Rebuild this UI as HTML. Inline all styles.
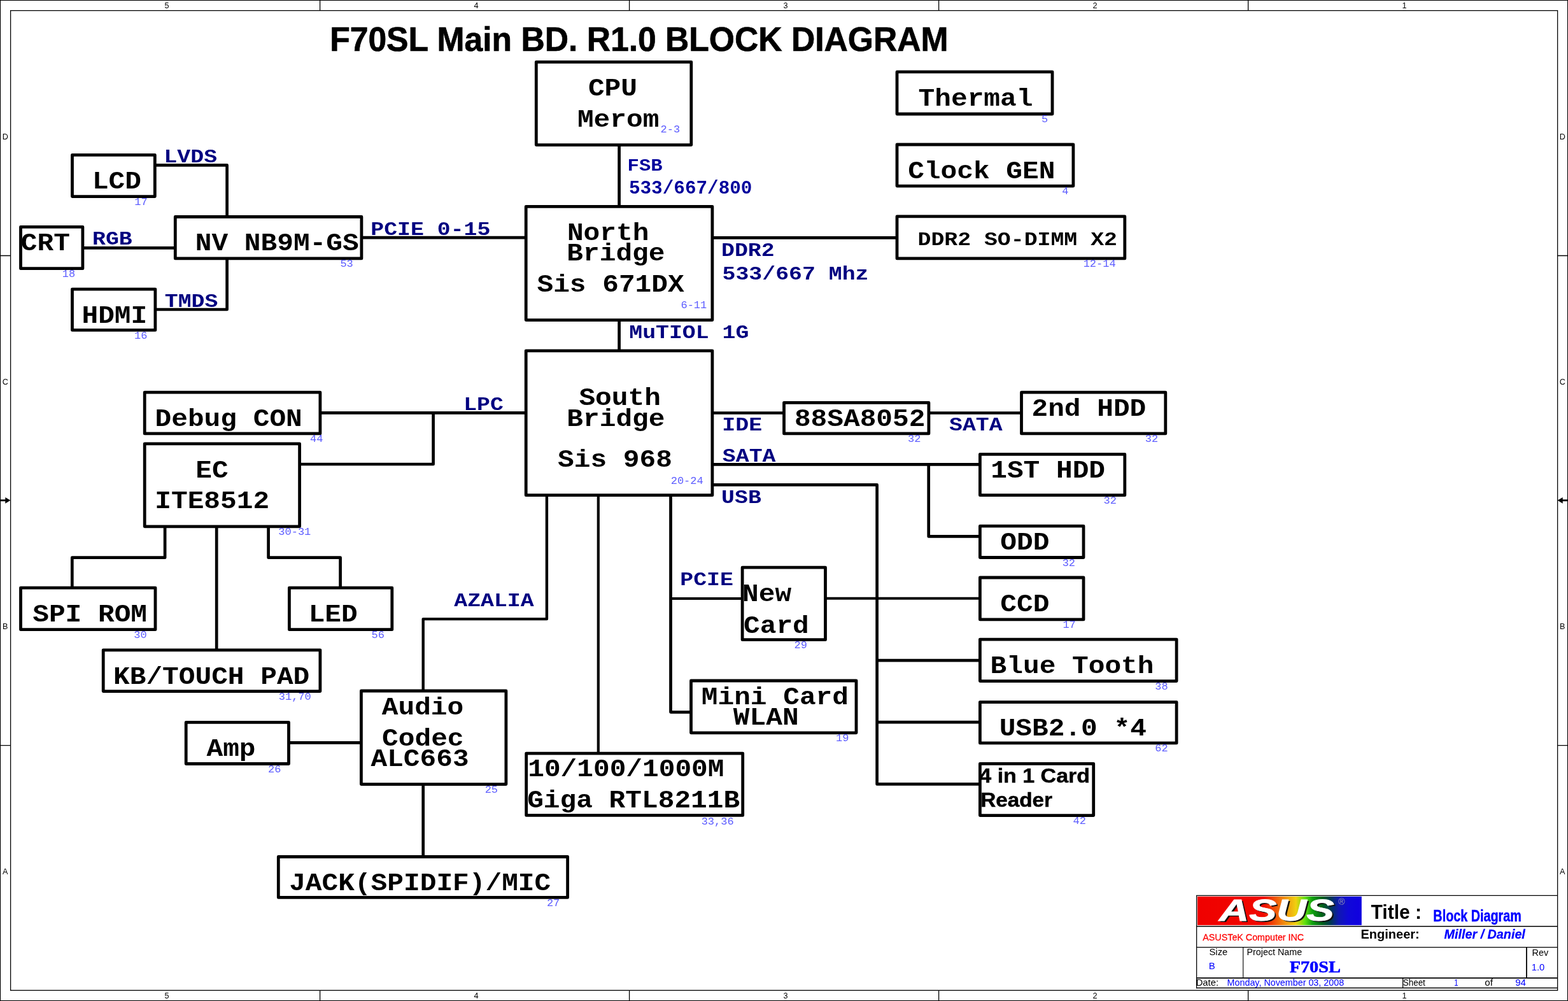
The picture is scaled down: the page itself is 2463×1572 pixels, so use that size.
<!DOCTYPE html>
<html lang="en"><head><meta charset="utf-8"><title>F70SL Main BD. R1.0 BLOCK DIAGRAM</title>
<style>html,body{margin:0;padding:0;background:#fff;}body{width:2463px;height:1572px;}svg{display:block;will-change:transform;}</style></head>
<body>
<svg width="2463" height="1572" viewBox="0 0 2463 1572">
<rect x="0" y="0" width="2463" height="1572" fill="#fff"/>
<g fill="none" stroke="#000" stroke-width="1.3">
<rect x="0.5" y="0.5" width="2462" height="1571" stroke-width="1.1"/>
<rect x="16.6" y="16.6" width="2430.0" height="1538.7"/>
<path d="M502.6 0V16.6M502.6 1555.3V1572"/>
<path d="M988.6 0V16.6M988.6 1555.3V1572"/>
<path d="M1474.6 0V16.6M1474.6 1555.3V1572"/>
<path d="M1960.6 0V16.6M1960.6 1555.3V1572"/>
<path d="M0 401.5H16.6M2446.6 401.5H2463"/>
<path d="M0 1170.6H16.6M2446.6 1170.6H2463"/>
</g>
<path d="M0 785.8H10" stroke="#000" stroke-width="2.8" fill="none"/>
<path d="M8.3 780.9L16.4 785.8L8.3 790.6999999999999Z" fill="#000"/>
<path d="M2463 785.8H2453" stroke="#000" stroke-width="2.8" fill="none"/>
<path d="M2454.7 780.9L2446.6 785.8L2454.7 790.6999999999999Z" fill="#000"/>
<g fill="none" stroke="#000" stroke-width="4.8" stroke-linejoin="round" stroke-linecap="butt">
<rect x="842.30" y="97.30" width="243.50" height="130.30"/>
<rect x="1409.00" y="112.90" width="244.00" height="66.10"/>
<rect x="1409.00" y="227.00" width="276.90" height="65.10"/>
<rect x="1409.00" y="339.90" width="357.80" height="66.00"/>
<rect x="113.50" y="243.30" width="129.80" height="65.30"/>
<rect x="32.50" y="356.30" width="97.40" height="65.40"/>
<rect x="275.30" y="340.50" width="292.60" height="65.40"/>
<rect x="113.50" y="454.10" width="130.40" height="64.30"/>
<rect x="826.20" y="324.40" width="292.70" height="178.20"/>
<rect x="826.20" y="550.80" width="292.70" height="226.90"/>
<rect x="227.20" y="616.20" width="275.70" height="64.70"/>
<rect x="227.20" y="696.90" width="243.40" height="129.90"/>
<rect x="32.50" y="923.10" width="211.50" height="65.60"/>
<rect x="454.40" y="923.10" width="161.40" height="65.60"/>
<rect x="162.20" y="1020.80" width="340.70" height="64.80"/>
<rect x="292.20" y="1134.40" width="161.30" height="65.10"/>
<rect x="567.40" y="1085.00" width="227.50" height="146.60"/>
<rect x="437.30" y="1345.50" width="454.30" height="63.90"/>
<rect x="826.70" y="1183.10" width="340.00" height="97.30"/>
<rect x="1166.10" y="891.20" width="130.40" height="113.50"/>
<rect x="1085.50" y="1069.00" width="259.50" height="81.80"/>
<rect x="1231.50" y="632.30" width="227.40" height="48.60"/>
<rect x="1604.50" y="616.20" width="226.30" height="64.70"/>
<rect x="1539.40" y="713.40" width="227.40" height="64.30"/>
<rect x="1539.40" y="826.20" width="162.60" height="49.30"/>
<rect x="1539.40" y="907.00" width="162.60" height="65.90"/>
<rect x="1539.40" y="1004.10" width="308.70" height="65.50"/>
<rect x="1539.40" y="1102.60" width="308.70" height="64.30"/>
<rect x="1539.40" y="1199.30" width="178.30" height="81.30"/>
<path d="M972.60 227.70 L972.60 324.30" stroke-width="4.7"/>
<path d="M972.60 502.70 L972.60 550.70" stroke-width="4.7"/>
<path d="M243.40 259.40 L356.60 259.40 L356.60 340.40" stroke-width="4.7"/>
<path d="M244.00 486.00 L356.60 486.00 L356.60 406.00" stroke-width="4.7"/>
<path d="M130.00 389.30 L275.20 389.30" stroke-width="4.7"/>
<path d="M568.00 373.10 L826.10 373.10" stroke-width="4.7"/>
<path d="M1119.00 373.40 L1408.90 373.40" stroke-width="4.7"/>
<path d="M503.00 648.40 L826.10 648.40" stroke-width="4.7"/>
<path d="M470.70 729.00 L680.60 729.00 L680.60 648.40" stroke-width="4.7"/>
<path d="M1119.00 648.50 L1231.40 648.50" stroke-width="4.7"/>
<path d="M1459.00 648.50 L1604.40 648.50" stroke-width="4.7"/>
<path d="M1119.00 729.30 L1539.30 729.30" stroke-width="4.7"/>
<path d="M1458.70 729.30 L1458.70 842.40 L1539.30 842.40" stroke-width="4.7"/>
<path d="M1119.00 761.40 L1377.60 761.40 L1377.60 1231.40 L1539.30 1231.40" stroke-width="4.7"/>
<path d="M1296.60 939.80 L1539.30 939.80" stroke-width="4.1"/>
<path d="M1377.60 1037.20 L1539.30 1037.20" stroke-width="4.7"/>
<path d="M1377.60 1134.20 L1539.30 1134.20" stroke-width="4.7"/>
<path d="M858.90 777.80 L858.90 972.10 L664.70 972.10 L664.70 1084.90" stroke-width="4.4"/>
<path d="M939.80 777.80 L939.80 1183.00" stroke-width="4.2"/>
<path d="M1053.50 777.80 L1053.50 1118.30 L1085.40 1118.30" stroke-width="4.7"/>
<path d="M1053.50 940.00 L1166.00 940.00" stroke-width="4.1"/>
<path d="M259.10 826.90 L259.10 875.70 L113.30 875.70 L113.30 923.00" stroke-width="4.7"/>
<path d="M340.20 826.90 L340.20 1020.70" stroke-width="4.7"/>
<path d="M421.60 826.90 L421.60 875.70 L534.60 875.70 L534.60 923.00" stroke-width="4.7"/>
<path d="M453.60 1166.40 L567.30 1166.40" stroke-width="4.7"/>
<path d="M664.70 1231.70 L664.70 1345.40" stroke-width="4.7"/>
</g>
<defs><linearGradient id="lg" x1="0" x2="1" y1="0" y2="0"><stop offset="0" stop-color="#f00000"/><stop offset="0.40" stop-color="#f00800"/><stop offset="0.47" stop-color="#f05008"/><stop offset="0.54" stop-color="#f09810"/><stop offset="0.60" stop-color="#f0d010"/><stop offset="0.655" stop-color="#60e010"/><stop offset="0.70" stop-color="#10a010"/><stop offset="0.76" stop-color="#006018"/><stop offset="0.81" stop-color="#003850"/><stop offset="0.86" stop-color="#1018b0"/><stop offset="0.92" stop-color="#1008d8"/><stop offset="1" stop-color="#1000e0"/></linearGradient></defs>
<rect x="1881" y="1407.9" width="257.8" height="45" fill="url(#lg)"/>
<g font-family="'Liberation Sans',sans-serif" font-weight="bold" font-style="italic" font-size="50.0"><text transform="translate(1917.63 1448.44) scale(1.3004 0.9739)" fill="#101010">ASUS</text><text transform="translate(1915.03 1445.84) scale(1.3004 0.9739)" fill="#fff" stroke="#fff" stroke-width="0.9">ASUS</text></g>
<text x="2107.4" y="1420.6" text-anchor="middle" font-family="'Liberation Sans',sans-serif" font-size="14" fill="#9a9ab8">®</text>
<g fill="none" stroke="#000">
<path d="M1879.6 1552.3V1406.3H2446.6" stroke-width="1.3"/>
<path d="M1879 1454.7H2446.6" stroke-width="1.6"/>
<path d="M1879 1487.7H2446.6" stroke-width="1.3"/>
<path d="M1879 1535.8H2446.6" stroke-width="1.8"/>
<path d="M1879 1551.5H2446.6" stroke-width="1.7"/>
<path d="M1952.7 1487.7V1535.8" stroke-width="1.1"/>
<path d="M2397.9 1487.7V1535.8" stroke-width="1.8"/>
<path d="M2203.6 1535.8V1552" stroke-width="1.3"/>
</g>
<text transform="translate(518.17 80.30) scale(0.9634 1)" font-family="'Liberation Sans',sans-serif" font-weight="bold" font-style="normal" font-size="53.6" fill="#000" stroke="#000" stroke-width="0.7" xml:space="preserve">F70SL Main BD. R1.0 BLOCK DIAGRAM</text>
<text transform="translate(923.92 149.70) scale(1.1182 1)" font-family="'Liberation Mono',monospace" font-weight="bold" font-style="normal" font-size="38.3" fill="#000" xml:space="preserve">CPU</text>
<text transform="translate(906.92 199.00) scale(1.1182 1)" font-family="'Liberation Mono',monospace" font-weight="bold" font-style="normal" font-size="38.3" fill="#000" xml:space="preserve">Merom</text>
<text transform="translate(1442.57 166.30) scale(1.1182 1)" font-family="'Liberation Mono',monospace" font-weight="bold" font-style="normal" font-size="38.3" fill="#000" xml:space="preserve">Thermal</text>
<text transform="translate(1426.17 280.10) scale(1.1182 1)" font-family="'Liberation Mono',monospace" font-weight="bold" font-style="normal" font-size="38.3" fill="#000" xml:space="preserve">Clock GEN</text>
<text transform="translate(144.90 295.80) scale(1.1182 1)" font-family="'Liberation Mono',monospace" font-weight="bold" font-style="normal" font-size="38.3" fill="#000" xml:space="preserve">LCD</text>
<text transform="translate(32.85 393.40) scale(1.1182 1)" font-family="'Liberation Mono',monospace" font-weight="bold" font-style="normal" font-size="38.3" fill="#000" xml:space="preserve">CRT</text>
<text transform="translate(306.78 393.40) scale(1.1182 1)" font-family="'Liberation Mono',monospace" font-weight="bold" font-style="normal" font-size="38.3" fill="#000" xml:space="preserve">NV NB9M-GS</text>
<text transform="translate(128.49 506.70) scale(1.1182 1)" font-family="'Liberation Mono',monospace" font-weight="bold" font-style="normal" font-size="38.3" fill="#000" xml:space="preserve">HDMI</text>
<text transform="translate(890.90 376.70) scale(1.1182 1)" font-family="'Liberation Mono',monospace" font-weight="bold" font-style="normal" font-size="38.3" fill="#000" xml:space="preserve">North</text>
<text transform="translate(890.32 409.20) scale(1.1182 1)" font-family="'Liberation Mono',monospace" font-weight="bold" font-style="normal" font-size="38.3" fill="#000" xml:space="preserve">Bridge</text>
<text transform="translate(843.47 457.80) scale(1.1182 1)" font-family="'Liberation Mono',monospace" font-weight="bold" font-style="normal" font-size="38.3" fill="#000" xml:space="preserve">Sis 671DX</text>
<text transform="translate(909.41 635.60) scale(1.1182 1)" font-family="'Liberation Mono',monospace" font-weight="bold" font-style="normal" font-size="38.3" fill="#000" xml:space="preserve">South</text>
<text transform="translate(890.32 669.10) scale(1.1182 1)" font-family="'Liberation Mono',monospace" font-weight="bold" font-style="normal" font-size="38.3" fill="#000" xml:space="preserve">Bridge</text>
<text transform="translate(876.06 733.20) scale(1.1182 1)" font-family="'Liberation Mono',monospace" font-weight="bold" font-style="normal" font-size="38.3" fill="#000" xml:space="preserve">Sis 968</text>
<text transform="translate(243.55 669.00) scale(1.1182 1)" font-family="'Liberation Mono',monospace" font-weight="bold" font-style="normal" font-size="38.3" fill="#000" xml:space="preserve">Debug CON</text>
<text transform="translate(307.28 750.30) scale(1.1182 1)" font-family="'Liberation Mono',monospace" font-weight="bold" font-style="normal" font-size="38.3" fill="#000" xml:space="preserve">EC</text>
<text transform="translate(243.30 798.40) scale(1.1182 1)" font-family="'Liberation Mono',monospace" font-weight="bold" font-style="normal" font-size="38.3" fill="#000" xml:space="preserve">ITE8512</text>
<text transform="translate(51.22 976.00) scale(1.1182 1)" font-family="'Liberation Mono',monospace" font-weight="bold" font-style="normal" font-size="38.3" fill="#000" xml:space="preserve">SPI ROM</text>
<text transform="translate(484.65 976.00) scale(1.1182 1)" font-family="'Liberation Mono',monospace" font-weight="bold" font-style="normal" font-size="38.3" fill="#000" xml:space="preserve">LED</text>
<text transform="translate(178.02 1074.20) scale(1.1182 1)" font-family="'Liberation Mono',monospace" font-weight="bold" font-style="normal" font-size="38.3" fill="#000" xml:space="preserve">KB/TOUCH PAD</text>
<text transform="translate(324.46 1186.70) scale(1.1182 1)" font-family="'Liberation Mono',monospace" font-weight="bold" font-style="normal" font-size="38.3" fill="#000" xml:space="preserve">Amp</text>
<text transform="translate(599.76 1121.60) scale(1.1182 1)" font-family="'Liberation Mono',monospace" font-weight="bold" font-style="normal" font-size="38.3" fill="#000" xml:space="preserve">Audio</text>
<text transform="translate(600.07 1171.20) scale(1.1182 1)" font-family="'Liberation Mono',monospace" font-weight="bold" font-style="normal" font-size="38.3" fill="#000" xml:space="preserve">Codec</text>
<text transform="translate(582.46 1202.70) scale(1.1182 1)" font-family="'Liberation Mono',monospace" font-weight="bold" font-style="normal" font-size="38.3" fill="#000" xml:space="preserve">ALC663</text>
<text transform="translate(454.17 1397.90) scale(1.1182 1)" font-family="'Liberation Mono',monospace" font-weight="bold" font-style="normal" font-size="38.3" fill="#000" xml:space="preserve">JACK(SPIDIF)/MIC</text>
<text transform="translate(829.22 1218.70) scale(1.1182 1)" font-family="'Liberation Mono',monospace" font-weight="bold" font-style="normal" font-size="38.3" fill="#000" xml:space="preserve">10/100/1000M</text>
<text transform="translate(828.17 1267.50) scale(1.1182 1)" font-family="'Liberation Mono',monospace" font-weight="bold" font-style="normal" font-size="38.3" fill="#000" xml:space="preserve">Giga RTL8211B</text>
<text transform="translate(1166.11 944.10) scale(1.1182 1)" font-family="'Liberation Mono',monospace" font-weight="bold" font-style="normal" font-size="38.3" fill="#000" xml:space="preserve">New</text>
<text transform="translate(1168.02 994.00) scale(1.1182 1)" font-family="'Liberation Mono',monospace" font-weight="bold" font-style="normal" font-size="38.3" fill="#000" xml:space="preserve">Card</text>
<text transform="translate(1101.79 1105.50) scale(1.1182 1)" font-family="'Liberation Mono',monospace" font-weight="bold" font-style="normal" font-size="38.3" fill="#000" xml:space="preserve">Mini Card</text>
<text transform="translate(1151.84 1138.00) scale(1.1182 1)" font-family="'Liberation Mono',monospace" font-weight="bold" font-style="normal" font-size="38.3" fill="#000" xml:space="preserve">WLAN</text>
<text transform="translate(1247.89 669.10) scale(1.1182 1)" font-family="'Liberation Mono',monospace" font-weight="bold" font-style="normal" font-size="38.3" fill="#000" xml:space="preserve">88SA8052</text>
<text transform="translate(1620.45 652.50) scale(1.1182 1)" font-family="'Liberation Mono',monospace" font-weight="bold" font-style="normal" font-size="38.3" fill="#000" xml:space="preserve">2nd HDD</text>
<text transform="translate(1556.22 749.70) scale(1.1182 1)" font-family="'Liberation Mono',monospace" font-weight="bold" font-style="normal" font-size="38.3" fill="#000" xml:space="preserve">1ST HDD</text>
<text transform="translate(1571.29 862.70) scale(1.1182 1)" font-family="'Liberation Mono',monospace" font-weight="bold" font-style="normal" font-size="38.3" fill="#000" xml:space="preserve">ODD</text>
<text transform="translate(1571.29 959.90) scale(1.1182 1)" font-family="'Liberation Mono',monospace" font-weight="bold" font-style="normal" font-size="38.3" fill="#000" xml:space="preserve">CCD</text>
<text transform="translate(1555.60 1056.90) scale(1.1182 1)" font-family="'Liberation Mono',monospace" font-weight="bold" font-style="normal" font-size="38.3" fill="#000" xml:space="preserve">Blue Tooth</text>
<text transform="translate(1569.63 1154.70) scale(1.1182 1)" font-family="'Liberation Mono',monospace" font-weight="bold" font-style="normal" font-size="38.3" fill="#000" xml:space="preserve">USB2.0 *4</text>
<text transform="translate(1441.49 384.80) scale(1.2178 1)" font-family="'Liberation Mono',monospace" font-weight="bold" font-style="normal" font-size="28.6" fill="#000" xml:space="preserve">DDR2 SO-DIMM X2</text>
<text transform="translate(257.45 255.30) scale(1.2178 1)" font-family="'Liberation Mono',monospace" font-weight="bold" font-style="normal" font-size="28.6" fill="#000080" xml:space="preserve">LVDS</text>
<text transform="translate(145.07 384.40) scale(1.2178 1)" font-family="'Liberation Mono',monospace" font-weight="bold" font-style="normal" font-size="28.6" fill="#000080" xml:space="preserve">RGB</text>
<text transform="translate(258.81 482.00) scale(1.2178 1)" font-family="'Liberation Mono',monospace" font-weight="bold" font-style="normal" font-size="28.6" fill="#000080" xml:space="preserve">TMDS</text>
<text transform="translate(582.27 369.10) scale(1.2178 1)" font-family="'Liberation Mono',monospace" font-weight="bold" font-style="normal" font-size="28.6" fill="#000080" xml:space="preserve">PCIE 0-15</text>
<text transform="translate(985.61 268.00) scale(1.1311 1)" font-family="'Liberation Mono',monospace" font-weight="bold" font-style="normal" font-size="27.0" fill="#00009c" xml:space="preserve">FSB</text>
<text transform="translate(987.93 303.50) scale(0.9939 1)" font-family="'Liberation Mono',monospace" font-weight="bold" font-style="normal" font-size="29.5" fill="#00009c" xml:space="preserve">533/667/800</text>
<text transform="translate(1132.99 401.60) scale(1.2178 1)" font-family="'Liberation Mono',monospace" font-weight="bold" font-style="normal" font-size="28.6" fill="#000080" xml:space="preserve">DDR2</text>
<text transform="translate(1134.58 438.90) scale(1.2178 1)" font-family="'Liberation Mono',monospace" font-weight="bold" font-style="normal" font-size="28.6" fill="#000080" xml:space="preserve">533/667 Mhz</text>
<text transform="translate(988.24 531.00) scale(1.2178 1)" font-family="'Liberation Mono',monospace" font-weight="bold" font-style="normal" font-size="28.6" fill="#000080" xml:space="preserve">MuTIOL 1G</text>
<text transform="translate(728.15 644.10) scale(1.2178 1)" font-family="'Liberation Mono',monospace" font-weight="bold" font-style="normal" font-size="28.6" fill="#000080" xml:space="preserve">LPC</text>
<text transform="translate(1134.37 676.00) scale(1.2178 1)" font-family="'Liberation Mono',monospace" font-weight="bold" font-style="normal" font-size="28.6" fill="#000080" xml:space="preserve">IDE</text>
<text transform="translate(1491.02 676.00) scale(1.2178 1)" font-family="'Liberation Mono',monospace" font-weight="bold" font-style="normal" font-size="28.6" fill="#000080" xml:space="preserve">SATA</text>
<text transform="translate(1134.87 724.80) scale(1.2178 1)" font-family="'Liberation Mono',monospace" font-weight="bold" font-style="normal" font-size="28.6" fill="#000080" xml:space="preserve">SATA</text>
<text transform="translate(1133.12 789.80) scale(1.2178 1)" font-family="'Liberation Mono',monospace" font-weight="bold" font-style="normal" font-size="28.6" fill="#000080" xml:space="preserve">USB</text>
<text transform="translate(1068.27 919.10) scale(1.2178 1)" font-family="'Liberation Mono',monospace" font-weight="bold" font-style="normal" font-size="28.6" fill="#000080" xml:space="preserve">PCIE</text>
<text transform="translate(713.29 951.90) scale(1.2178 1)" font-family="'Liberation Mono',monospace" font-weight="bold" font-style="normal" font-size="28.6" fill="#000080" xml:space="preserve">AZALIA</text>
<text transform="translate(1538.30 1228.80) scale(1.0970 1)" font-family="'Liberation Sans',sans-serif" font-weight="bold" font-style="normal" font-size="31.0" fill="#000" stroke="#000" stroke-width="0.5" xml:space="preserve">4 in 1 Card</text>
<text transform="translate(1540.22 1267.20) scale(1.0717 1)" font-family="'Liberation Sans',sans-serif" font-weight="bold" font-style="normal" font-size="31.0" fill="#000" stroke="#000" stroke-width="0.5" xml:space="preserve">Reader</text>
<text transform="translate(1037.57 208.00) scale(1.0896 1)" font-family="'Liberation Mono',monospace" font-weight="normal" font-style="normal" font-size="15.6" fill="#5c5cff" xml:space="preserve">2-3</text>
<text transform="translate(1636.12 191.90) scale(1.0896 1)" font-family="'Liberation Mono',monospace" font-weight="normal" font-style="normal" font-size="15.6" fill="#5c5cff" xml:space="preserve">5</text>
<text transform="translate(1668.37 304.70) scale(1.0896 1)" font-family="'Liberation Mono',monospace" font-weight="normal" font-style="normal" font-size="15.6" fill="#5c5cff" xml:space="preserve">4</text>
<text transform="translate(1701.64 418.70) scale(1.0896 1)" font-family="'Liberation Mono',monospace" font-weight="normal" font-style="normal" font-size="15.6" fill="#5c5cff" xml:space="preserve">12-14</text>
<text transform="translate(211.25 322.00) scale(1.0896 1)" font-family="'Liberation Mono',monospace" font-weight="normal" font-style="normal" font-size="15.6" fill="#5c5cff" xml:space="preserve">17</text>
<text transform="translate(97.82 434.50) scale(1.0896 1)" font-family="'Liberation Mono',monospace" font-weight="normal" font-style="normal" font-size="15.6" fill="#5c5cff" xml:space="preserve">18</text>
<text transform="translate(534.42 418.90) scale(1.0896 1)" font-family="'Liberation Mono',monospace" font-weight="normal" font-style="normal" font-size="15.6" fill="#5c5cff" xml:space="preserve">53</text>
<text transform="translate(211.12 531.70) scale(1.0896 1)" font-family="'Liberation Mono',monospace" font-weight="normal" font-style="normal" font-size="15.6" fill="#5c5cff" xml:space="preserve">16</text>
<text transform="translate(1069.49 483.90) scale(1.0896 1)" font-family="'Liberation Mono',monospace" font-weight="normal" font-style="normal" font-size="15.6" fill="#5c5cff" xml:space="preserve">6-11</text>
<text transform="translate(1053.69 759.50) scale(1.0896 1)" font-family="'Liberation Mono',monospace" font-weight="normal" font-style="normal" font-size="15.6" fill="#5c5cff" xml:space="preserve">20-24</text>
<text transform="translate(487.02 694.30) scale(1.0896 1)" font-family="'Liberation Mono',monospace" font-weight="normal" font-style="normal" font-size="15.6" fill="#5c5cff" xml:space="preserve">44</text>
<text transform="translate(437.34 840.40) scale(1.0896 1)" font-family="'Liberation Mono',monospace" font-weight="normal" font-style="normal" font-size="15.6" fill="#5c5cff" xml:space="preserve">30-31</text>
<text transform="translate(210.32 1002.00) scale(1.0896 1)" font-family="'Liberation Mono',monospace" font-weight="normal" font-style="normal" font-size="15.6" fill="#5c5cff" xml:space="preserve">30</text>
<text transform="translate(583.47 1002.00) scale(1.0896 1)" font-family="'Liberation Mono',monospace" font-weight="normal" font-style="normal" font-size="15.6" fill="#5c5cff" xml:space="preserve">56</text>
<text transform="translate(437.77 1099.30) scale(1.0896 1)" font-family="'Liberation Mono',monospace" font-weight="normal" font-style="normal" font-size="15.6" fill="#5c5cff" xml:space="preserve">31,70</text>
<text transform="translate(421.12 1212.80) scale(1.0896 1)" font-family="'Liberation Mono',monospace" font-weight="normal" font-style="normal" font-size="15.6" fill="#5c5cff" xml:space="preserve">26</text>
<text transform="translate(761.67 1245.40) scale(1.0896 1)" font-family="'Liberation Mono',monospace" font-weight="normal" font-style="normal" font-size="15.6" fill="#5c5cff" xml:space="preserve">25</text>
<text transform="translate(858.90 1422.70) scale(1.0896 1)" font-family="'Liberation Mono',monospace" font-weight="normal" font-style="normal" font-size="15.6" fill="#5c5cff" xml:space="preserve">27</text>
<text transform="translate(1101.67 1294.70) scale(1.0896 1)" font-family="'Liberation Mono',monospace" font-weight="normal" font-style="normal" font-size="15.6" fill="#5c5cff" xml:space="preserve">33,36</text>
<text transform="translate(1247.55 1018.30) scale(1.0896 1)" font-family="'Liberation Mono',monospace" font-weight="normal" font-style="normal" font-size="15.6" fill="#5c5cff" xml:space="preserve">29</text>
<text transform="translate(1313.10 1164.10) scale(1.0896 1)" font-family="'Liberation Mono',monospace" font-weight="normal" font-style="normal" font-size="15.6" fill="#5c5cff" xml:space="preserve">19</text>
<text transform="translate(1425.95 693.90) scale(1.0896 1)" font-family="'Liberation Mono',monospace" font-weight="normal" font-style="normal" font-size="15.6" fill="#5c5cff" xml:space="preserve">32</text>
<text transform="translate(1798.80 693.90) scale(1.0896 1)" font-family="'Liberation Mono',monospace" font-weight="normal" font-style="normal" font-size="15.6" fill="#5c5cff" xml:space="preserve">32</text>
<text transform="translate(1733.45 791.30) scale(1.0896 1)" font-family="'Liberation Mono',monospace" font-weight="normal" font-style="normal" font-size="15.6" fill="#5c5cff" xml:space="preserve">32</text>
<text transform="translate(1668.65 888.80) scale(1.0896 1)" font-family="'Liberation Mono',monospace" font-weight="normal" font-style="normal" font-size="15.6" fill="#5c5cff" xml:space="preserve">32</text>
<text transform="translate(1669.40 986.00) scale(1.0896 1)" font-family="'Liberation Mono',monospace" font-weight="normal" font-style="normal" font-size="15.6" fill="#5c5cff" xml:space="preserve">17</text>
<text transform="translate(1814.22 1082.70) scale(1.0896 1)" font-family="'Liberation Mono',monospace" font-weight="normal" font-style="normal" font-size="15.6" fill="#5c5cff" xml:space="preserve">38</text>
<text transform="translate(1814.35 1179.90) scale(1.0896 1)" font-family="'Liberation Mono',monospace" font-weight="normal" font-style="normal" font-size="15.6" fill="#5c5cff" xml:space="preserve">62</text>
<text transform="translate(1685.44 1293.80) scale(1.0896 1)" font-family="'Liberation Mono',monospace" font-weight="normal" font-style="normal" font-size="15.6" fill="#5c5cff" xml:space="preserve">42</text>
<text transform="translate(2153.50 1442.60) scale(0.9571 1)" font-family="'Liberation Sans',sans-serif" font-weight="bold" font-style="normal" font-size="31.4" fill="#000" xml:space="preserve">Title :</text>
<text transform="translate(2251.36 1447.10) scale(0.7466 1)" font-family="'Liberation Sans',sans-serif" font-weight="bold" font-style="normal" font-size="26.5" fill="#0000ff" stroke="#0000ff" stroke-width="0.5" xml:space="preserve">Block Diagram</text>
<text transform="translate(2137.45 1473.90) scale(0.9532 1)" font-family="'Liberation Sans',sans-serif" font-weight="bold" font-style="normal" font-size="21.0" fill="#000" xml:space="preserve">Engineer:</text>
<text transform="translate(2268.59 1473.90) scale(0.9406 1)" font-family="'Liberation Sans',sans-serif" font-weight="bold" font-style="italic" font-size="21.0" fill="#0000ff" stroke="#0000ff" stroke-width="0.3" xml:space="preserve">Miller / Daniel</text>
<text transform="translate(1889.30 1477.40) scale(0.9411 1)" font-family="'Liberation Sans',sans-serif" font-weight="normal" font-style="normal" font-size="15.2" fill="#ff0000" stroke="#ff0000" stroke-width="0.25" xml:space="preserve">ASUSTeK Computer INC</text>
<text transform="translate(1899.54 1500.10) scale(0.9821 1)" font-family="'Liberation Sans',sans-serif" font-weight="normal" font-style="normal" font-size="15.0" fill="#000" xml:space="preserve">Size</text>
<text transform="translate(1958.58 1500.10) scale(0.9530 1)" font-family="'Liberation Sans',sans-serif" font-weight="normal" font-style="normal" font-size="15.0" fill="#000" xml:space="preserve">Project Name</text>
<text transform="translate(2406.57 1500.80) scale(0.9607 1)" font-family="'Liberation Sans',sans-serif" font-weight="normal" font-style="normal" font-size="15.0" fill="#000" xml:space="preserve">Rev</text>
<text transform="translate(1898.63 1522.00) scale(1.0270 1)" font-family="'Liberation Sans',sans-serif" font-weight="normal" font-style="normal" font-size="14.6" fill="#0000ff" xml:space="preserve">B</text>
<text transform="translate(2025.76 1526.80) scale(1.1031 1)" font-family="'Liberation Serif',serif" font-weight="bold" font-style="normal" font-size="25.6" fill="#0000ff" stroke="#0000ff" stroke-width="0.6" xml:space="preserve">F70SL</text>
<text transform="translate(2405.78 1524.40) scale(1.0235 1)" font-family="'Liberation Sans',sans-serif" font-weight="normal" font-style="normal" font-size="14.4" fill="#0000ff" xml:space="preserve">1.0</text>
<text transform="translate(1878.64 1548.30) scale(0.9872 1)" font-family="'Liberation Sans',sans-serif" font-weight="normal" font-style="normal" font-size="15.0" fill="#000" xml:space="preserve">Date:</text>
<text transform="translate(1927.58 1548.30) scale(0.9546 1)" font-family="'Liberation Sans',sans-serif" font-weight="normal" font-style="normal" font-size="15.0" fill="#0000ff" xml:space="preserve">Monday, November 03, 2008</text>
<text transform="translate(2203.78 1548.30) scale(0.8948 1)" font-family="'Liberation Sans',sans-serif" font-weight="normal" font-style="normal" font-size="15.0" fill="#000" xml:space="preserve">Sheet</text>
<text transform="translate(2284.31 1548.30) scale(0.7356 1)" font-family="'Liberation Sans',sans-serif" font-weight="normal" font-style="normal" font-size="15.0" fill="#0000ff" xml:space="preserve">1</text>
<text transform="translate(2332.33 1548.30) scale(1.0089 1)" font-family="'Liberation Sans',sans-serif" font-weight="normal" font-style="normal" font-size="15.0" fill="#000" xml:space="preserve">of</text>
<text transform="translate(2380.19 1548.30) scale(1.0059 1)" font-family="'Liberation Sans',sans-serif" font-weight="normal" font-style="normal" font-size="15.0" fill="#0000ff" xml:space="preserve">94</text>
<text x="262.1" y="12.7" text-anchor="middle" font-family="'Liberation Sans',sans-serif" font-size="12.6" fill="#000">5</text>
<text x="262.1" y="1567.8" text-anchor="middle" font-family="'Liberation Sans',sans-serif" font-size="12.6" fill="#000">5</text>
<text x="748.1" y="12.7" text-anchor="middle" font-family="'Liberation Sans',sans-serif" font-size="12.6" fill="#000">4</text>
<text x="748.1" y="1567.8" text-anchor="middle" font-family="'Liberation Sans',sans-serif" font-size="12.6" fill="#000">4</text>
<text x="1234.1" y="12.7" text-anchor="middle" font-family="'Liberation Sans',sans-serif" font-size="12.6" fill="#000">3</text>
<text x="1234.1" y="1567.8" text-anchor="middle" font-family="'Liberation Sans',sans-serif" font-size="12.6" fill="#000">3</text>
<text x="1720.1" y="12.7" text-anchor="middle" font-family="'Liberation Sans',sans-serif" font-size="12.6" fill="#000">2</text>
<text x="1720.1" y="1567.8" text-anchor="middle" font-family="'Liberation Sans',sans-serif" font-size="12.6" fill="#000">2</text>
<text x="2206.1" y="12.7" text-anchor="middle" font-family="'Liberation Sans',sans-serif" font-size="12.6" fill="#000">1</text>
<text x="2206.1" y="1567.8" text-anchor="middle" font-family="'Liberation Sans',sans-serif" font-size="12.6" fill="#000">1</text>
<text x="8.3" y="219.0" text-anchor="middle" font-family="'Liberation Sans',sans-serif" font-size="12.6" fill="#000">D</text>
<text x="2454.3" y="219.0" text-anchor="middle" font-family="'Liberation Sans',sans-serif" font-size="12.6" fill="#000">D</text>
<text x="8.3" y="603.6" text-anchor="middle" font-family="'Liberation Sans',sans-serif" font-size="12.6" fill="#000">C</text>
<text x="2454.3" y="603.6" text-anchor="middle" font-family="'Liberation Sans',sans-serif" font-size="12.6" fill="#000">C</text>
<text x="8.3" y="988.1" text-anchor="middle" font-family="'Liberation Sans',sans-serif" font-size="12.6" fill="#000">B</text>
<text x="2454.3" y="988.1" text-anchor="middle" font-family="'Liberation Sans',sans-serif" font-size="12.6" fill="#000">B</text>
<text x="8.3" y="1372.6" text-anchor="middle" font-family="'Liberation Sans',sans-serif" font-size="12.6" fill="#000">A</text>
<text x="2454.3" y="1372.6" text-anchor="middle" font-family="'Liberation Sans',sans-serif" font-size="12.6" fill="#000">A</text>
</svg>
</body></html>
